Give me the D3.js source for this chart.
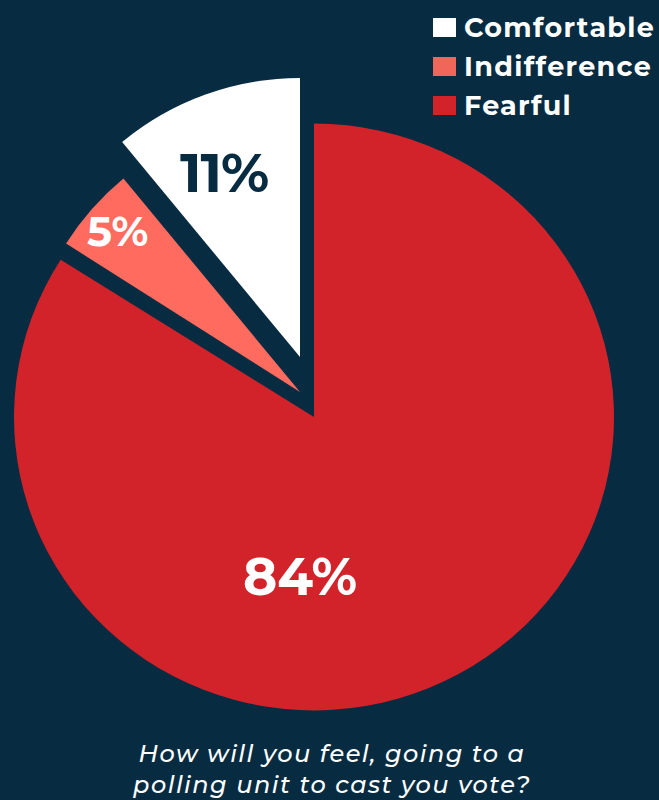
<!DOCTYPE html>
<html>
<head>
    <meta charset="utf-8">
    <title>Polling unit feeling</title>
    <script src="https://d3js.org/d3.v7.min.js"></script>
    <style>
        html, body { margin: 0; padding: 0; background: #072c42; }
        svg { display: block; }
    </style>
</head>
<body>
    <svg id="pieChart" width="659" height="800"></svg>
    <script>
        // data, in drawing order (clockwise from 12 o'clock)
        const categories = ["Fearful", "Indifference", "Comfortable"];
        const values = [84, 5, 11];
        const labels = ["84%", "5%", "11%"];
        const legendOrder = ["Comfortable", "Indifference", "Fearful"];
        const titleLines = ["How will you feel, going to a", "polling unit to cast you vote?"];

        // look of each slice: radius, shift away from centre, label placement
        const sliceStyle = {
            Fearful:      { r: 300, dx: 0,   dy: 0,   sy: 0.978, fill: "#d2232a", text: "#ffffff", size: 52, ls: 0,  labelR: 160, labelA: 185 },
            Indifference: { r: 277, dx: -14, dy: -25, sy: 1,     fill: "#ff6b5e", text: "#ffffff", size: 42, ls: 0,  labelR: 243, labelA: null },
            Comfortable:  { r: 279, dx: -14, dy: -60, sy: 1,     fill: "#ffffff", text: "#072c42", size: 55, ls: -1, labelR: 200, labelA: 337.7 }
        };
        const legendColor = { Comfortable: "#ffffff", Indifference: "#f0665a", Fearful: "#d2232a" };

        const width = 659, height = 800;
        const cx = 314, cy = 417;
        const font = "Montserrat, Inter, 'DejaVu Sans', sans-serif";

        const svg = d3.select("#pieChart").attr("width", width).attr("height", height);
        svg.append("rect").attr("width", width).attr("height", height).attr("fill", "#072c42");

        const pieData = categories.map((c, i) => ({ key: c, value: values[i], label: labels[i] }));
        const pie = d3.pie().sort(null).value(d => d.value);
        const arcs = pie(pieData);

        const g = svg.append("g").attr("transform", `translate(${cx}, ${cy})`);

        const slices = g.selectAll(".slice").data(arcs).enter().append("g")
            .attr("class", "slice")
            .attr("transform", d => {
                const s = sliceStyle[d.data.key];
                return `translate(${s.dx}, ${s.dy})`;
            });

        slices.append("path")
            .attr("transform", d => `scale(1, ${sliceStyle[d.data.key].sy})`)
            .attr("d", d => d3.arc().innerRadius(0).outerRadius(sliceStyle[d.data.key].r)(d))
            .attr("fill", d => sliceStyle[d.data.key].fill);

        function labelAngle(d) {
            const s = sliceStyle[d.data.key];
            return s.labelA !== null ? s.labelA * Math.PI / 180 : (d.startAngle + d.endAngle) / 2;
        }

        slices.append("text")
            .attr("x", d => Math.sin(labelAngle(d)) * sliceStyle[d.data.key].labelR)
            .attr("y", d => -Math.cos(labelAngle(d)) * sliceStyle[d.data.key].labelR)
            .attr("dy", "0.36em")
            .attr("text-anchor", "middle")
            .attr("font-family", font)
            .attr("font-weight", 700)
            .attr("font-size", d => sliceStyle[d.data.key].size)
            .attr("letter-spacing", d => sliceStyle[d.data.key].ls)
            .attr("fill", d => sliceStyle[d.data.key].text)
            .text(d => d.data.label);

        // legend, top right
        const legend = svg.append("g").attr("transform", "translate(433, 18)");
        const rows = legend.selectAll(".row").data(legendOrder).enter().append("g")
            .attr("class", "row")
            .attr("transform", (d, i) => `translate(0, ${i * 39})`);
        rows.append("rect").attr("width", 23).attr("height", 19).attr("fill", d => legendColor[d]);
        rows.append("text")
            .attr("x", 31).attr("y", 19)
            .attr("font-family", font)
            .attr("font-weight", 700)
            .attr("font-size", 27)
            .attr("letter-spacing", 1.3)
            .attr("fill", "#ffffff")
            .text(d => d);

        // question below the pie
        svg.append("g").selectAll("text").data(titleLines).enter().append("text")
            .attr("x", 332)
            .attr("y", (d, i) => 762 + i * 31)
            .attr("text-anchor", "middle")
            .attr("font-family", font)
            .attr("font-style", "italic")
            .attr("font-weight", 500)
            .attr("font-size", 24)
            .attr("letter-spacing", 1.5)
            .attr("fill", "#ffffff")
            .text(d => d);
    </script>
</body>
</html>
